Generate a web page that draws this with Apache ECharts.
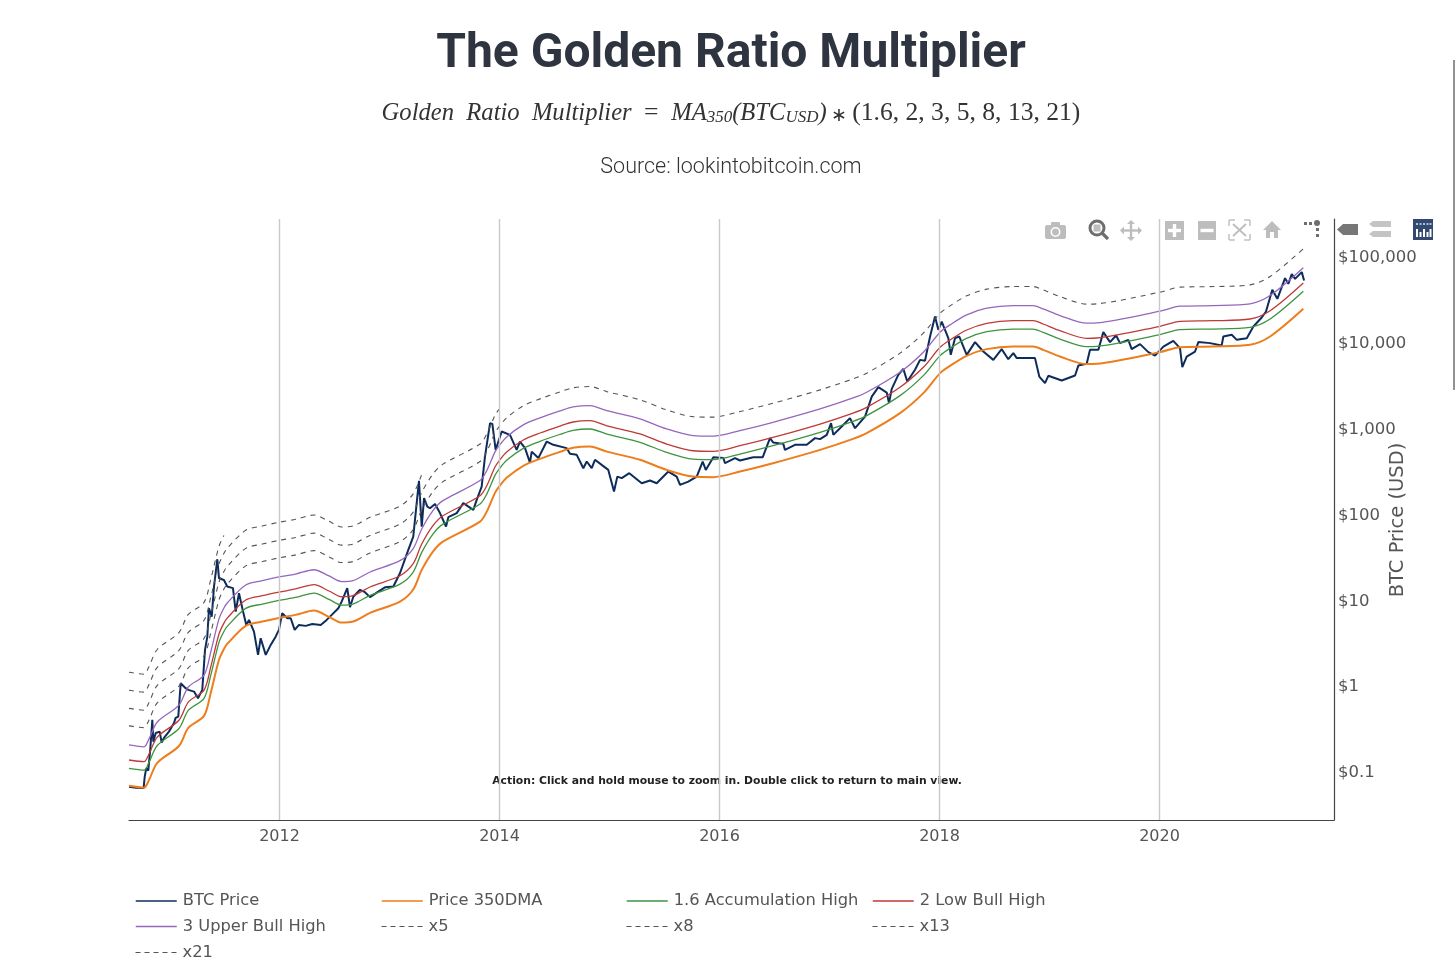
<!DOCTYPE html>
<html><head><meta charset="utf-8">
<style>html,body{margin:0;padding:0;background:#fff}#c{width:1456px;height:973px}</style>
<script src="https://cdn.jsdelivr.net/npm/echarts@6/dist/echarts.min.js"></script>
</head><body><div id="c"></div>
<script>
const tickYears=[2012,2014,2016,2018,2020];
const priceTicks=[0.1,1,10,100,1000,10000,100000];
const btcYears=[2010.632,2010.695,2010.765,2010.775,2010.789,2010.807,2010.825,2010.844,2010.853,2010.875,2010.911,2010.929,2010.95,2010.995,2011.041,2011.056,2011.08,2011.102,2011.147,2011.171,2011.223,2011.259,2011.298,2011.323,2011.344,2011.359,2011.384,2011.405,2011.435,2011.45,2011.495,2011.525,2011.577,2011.602,2011.632,2011.662,2011.698,2011.723,2011.768,2011.805,2011.829,2011.875,2011.92,2011.965,2011.995,2012.025,2012.071,2012.102,2012.138,2012.177,2012.238,2012.298,2012.375,2012.429,2012.475,2012.535,2012.565,2012.616,2012.641,2012.671,2012.732,2012.777,2012.823,2012.898,2012.959,2013.035,2013.095,2013.171,2013.216,2013.268,2013.293,2013.314,2013.344,2013.368,2013.414,2013.459,2013.514,2013.535,2013.611,2013.671,2013.762,2013.793,2013.838,2013.868,2013.914,2013.935,2013.965,2014.02,2014.095,2014.156,2014.186,2014.232,2014.277,2014.293,2014.353,2014.429,2014.489,2014.611,2014.641,2014.702,2014.762,2014.793,2014.838,2014.868,2014.929,2014.989,2015.041,2015.071,2015.111,2015.18,2015.293,2015.368,2015.429,2015.535,2015.611,2015.641,2015.716,2015.793,2015.847,2015.875,2015.944,2016.035,2016.05,2016.141,2016.186,2016.307,2016.393,2016.459,2016.489,2016.58,2016.595,2016.686,2016.793,2016.868,2016.914,2016.975,2017.014,2017.035,2017.111,2017.186,2017.232,2017.323,2017.384,2017.444,2017.52,2017.541,2017.565,2017.625,2017.671,2017.707,2017.777,2017.823,2017.868,2017.914,2017.959,2017.989,2018.02,2018.08,2018.102,2018.141,2018.18,2018.247,2018.323,2018.398,2018.489,2018.565,2018.625,2018.671,2018.702,2018.868,2018.907,2018.959,2018.989,2019.111,2019.232,2019.262,2019.338,2019.368,2019.444,2019.489,2019.55,2019.605,2019.641,2019.716,2019.747,2019.823,2019.898,2019.959,2020.035,2020.125,2020.186,2020.207,2020.247,2020.323,2020.353,2020.459,2020.565,2020.58,2020.656,2020.702,2020.793,2020.853,2020.929,2020.968,2021.025,2021.071,2021.141,2021.171,2021.202,2021.232,2021.293,2021.314];
const btcPrice=[0.0652,0.0638,0.0634,0.0859,0.108,0.101,0.176,0.393,0.219,0.277,0.287,0.214,0.243,0.287,0.362,0.415,0.43,1.05,0.92,0.879,0.84,0.703,0.879,2.57,3.67,7.87,6.28,14.1,29.3,17.6,16.8,14.1,13.5,7.19,11.8,7.87,5.03,5.75,4.2,2.25,3.52,2.25,2.94,3.67,4.4,6.89,6.02,6.02,4.4,5.03,4.9,5.16,5.03,5.75,6.58,7.87,9.4,13.5,8.09,10.7,12.9,12.1,10.6,12.3,13.8,14.1,20.1,37.7,53.8,240,70.3,151,120,115,129,101,70.3,90.6,101,132,110,144,206,460,1127,1107,551,901,824,551,689,577,392,526,442,689,631,577,495,482,337,403,337,422,368,322,180,269,258,295,225,242,225,308,269,215,235,269,403,322,453,442,385,442,414,453,453,755,670,647,551,631,631,755,735,824,1127,824,1030,1291,986,1346,2303,2965,2565,1932,2812,4121,4842,3443,4720,6166,6012,11530,19720,13800,17250,11040,7050,11040,11530,7050,9930,7710,6166,8220,6280,7380,6460,6460,3940,3300,4020,3540,4050,5290,5540,8070,8070,12970,9930,11840,9660,10550,8220,9400,7590,6920,8810,10280,8450,5070,6740,7710,9930,9660,9060,11530,12080,10550,11040,15070,19190,22550,40360,31700,55200,47400,61500,54200,64900,51800];
const maYears=[2010.632,2010.768,2010.814,2010.889,2011.086,2011.171,2011.314,2011.375,2011.45,2011.495,2011.525,2011.693,2011.844,2011.995,2012.147,2012.314,2012.45,2012.565,2012.668,2012.823,2013.095,2013.214,2013.293,2013.395,2013.486,2013.823,2013.884,2013.959,2013.995,2014.065,2014.216,2014.368,2014.55,2014.668,2014.823,2014.975,2015.277,2015.52,2015.759,2015.941,2016.186,2016.486,2016.914,2017.214,2017.338,2017.641,2017.853,2018.005,2018.095,2018.247,2018.429,2018.668,2018.85,2018.941,2019.095,2019.338,2019.429,2020.005,2020.186,2020.486,2020.823,2021.005,2021.307];
const ma350=[0.067,0.0638,0.0785,0.124,0.195,0.317,0.438,0.811,1.97,2.64,3.02,4.9,5.5,6.07,6.58,7.38,6.24,5.35,5.5,6.94,9.4,12.9,22,36,47,80.5,105,174,204,260,359,433,522,582,603,526,422,322,269,265,308,385,551,740,863,1476,2523,4315,5250,6870,8220,8810,8810,8070,6740,5500,5540,7590,8670,8810,9230,11530,24270];
const accumHigh=[0.107,0.102,0.126,0.198,0.312,0.507,0.701,1.30,3.15,4.22,4.83,7.84,8.8,9.71,10.5,11.8,9.98,8.56,8.8,11.1,15,20.6,35.2,57.6,75.2,129,168,278,326,416,574,693,835,931,965,842,675,515,430,424,493,616,882,1184,1381,2362,4037,6904,8400,10990,13150,14100,14100,12910,10780,8800,8860,12140,13870,14100,14770,18450,38830];
const lowBullHigh=[0.134,0.128,0.157,0.248,0.39,0.634,0.876,1.62,3.94,5.28,6.04,9.8,11,12.1,13.2,14.8,12.5,10.7,11,13.9,18.8,25.8,44,72,94,161,210,348,408,520,718,866,1044,1164,1206,1052,844,644,538,530,616,770,1102,1480,1726,2952,5046,8630,10500,13740,16440,17620,17620,16140,13480,11000,11080,15180,17340,17620,18460,23060,48540];
const upperBullHigh=[0.201,0.191,0.236,0.372,0.585,0.951,1.31,2.43,5.91,7.92,9.06,14.7,16.5,18.2,19.7,22.1,18.7,16.1,16.5,20.8,28.2,38.7,66,108,141,242,315,522,612,780,1077,1299,1566,1746,1809,1578,1266,966,807,795,924,1155,1653,2220,2589,4428,7569,12945,15750,20610,24660,26430,26430,24210,20220,16500,16620,22770,26010,26430,27690,34590,72810];
const x5Line=[0.335,0.319,0.393,0.62,0.975,1.59,2.19,4.06,9.85,13.2,15.1,24.5,27.5,30.4,32.9,36.9,31.2,26.8,27.5,34.7,47,64.5,110,180,235,403,525,870,1020,1300,1795,2165,2610,2910,3015,2630,2110,1610,1345,1325,1540,1925,2755,3700,4315,7380,12615,21575,26250,34350,41100,44050,44050,40350,33700,27500,27700,37950,43350,44050,46150,57650,121350];
const x8Line=[0.536,0.51,0.628,0.992,1.56,2.54,3.5,6.49,15.8,21.1,24.2,39.2,44,48.6,52.6,59,49.9,42.8,44,55.5,75.2,103,176,288,376,644,840,1392,1632];
const x13Line=[0.871,0.829,1.02,1.61,2.54,4.12,5.69,10.5,25.6,34.3,39.3,63.7,71.5,78.9,85.5,95.9,81.1,69.6,71.5,90.2,122,168,286];
const x21Line=[1.41,1.34,1.65,2.6,4.1,6.66,9.2,17,41.4,55.4];
const seriesNames=['BTC Price','Price 350DMA','1.6 Accumulation High','2 Low Bull High','3 Upper Bull High','x5','x8','x13','x21'];

const pair=(xs,ys)=>ys.map((v,i)=>[xs[i],v]);
const solid=(name,xs,ys,color,width,smooth)=>({name,type:'line',z:3,data:pair(xs,ys),showSymbol:false,symbol:'none',smooth,lineStyle:{color,width},itemStyle:{color}});
const dash=(name,ys)=>({name,type:'line',z:3,data:pair(maYears,ys),showSymbol:false,symbol:'none',smooth:0.3,lineStyle:{color:'#555',width:1.1,type:[5,5]},itemStyle:{color:'#555'}});
const series=[
 {type:'line',z:1,data:[],silent:true,markLine:{silent:true,symbol:'none',label:{show:false},lineStyle:{color:'#c8c8c8',width:1.4,type:'solid'},data:tickYears.map(y=>({xAxis:y}))}},
 solid(seriesNames[0],btcYears,btcPrice,'#0d2c5c',2,false),
 solid(seriesNames[1],maYears,ma350,'#ee7d1c',2,0.3),
 solid(seriesNames[2],maYears,accumHigh,'#3d9440',1.3,0.3),
 solid(seriesNames[3],maYears,lowBullHigh,'#bd3a36',1.3,0.3),
 solid(seriesNames[4],maYears,upperBullHigh,'#9467bd',1.3,0.3),
 dash(seriesNames[5],x5Line),dash(seriesNames[6],x8Line),dash(seriesNames[7],x13Line),dash(seriesNames[8],x21Line)
];
const cols=[135,381,626,872], rows=[893,918.5,944.5];
const legends=seriesNames.map((n,i)=>({data:[n],left:cols[i%4],top:rows[Math.floor(i/4)],padding:0,itemWidth:41,itemHeight:14,itemGap:0,
 itemStyle:{color:'transparent',borderWidth:0},
 lineStyle:i>4?{type:[5,4],width:1,color:'#555'}:{width:1.5},
 textStyle:{fontFamily:'DejaVu Sans',fontSize:16.3,color:'#555',padding:[3,0,0,1]},selectedMode:false}));

const G='#bdbdbd',D='#6e6e6e';
const rect=(x,y,w,h,fill,r)=>({type:'rect',shape:{x,y,width:w,height:h,r:r||0},style:{fill},silent:true});
const circ=(cx,cy,r,fill,stroke,lw)=>({type:'circle',shape:{cx,cy,r},style:{fill:fill||'none',stroke:stroke||null,lineWidth:lw||0},silent:true});
const poly=(points,fill)=>({type:'polygon',shape:{points},style:{fill},silent:true});
const seg=(x1,y1,x2,y2,stroke,lw)=>({type:'line',shape:{x1,y1,x2,y2},style:{stroke,lineWidth:lw},silent:true});
const txt=(x,y,text,font,fill)=>({type:'text',x,y,silent:true,style:{text,font,fill,textAlign:'center',textVerticalAlign:'middle'}});
const icons=[
 rect(1045,225,21,14,G,2),rect(1051,222,9,4,G,1),circ(1055.5,232,4.2,G,'#fff',1.6),
 circ(1097,228,7,'#fff',D,3),rect(1093.5,224.5,7,7,G),seg(1102,233,1108,239,D,3.2),
 seg(1131,221,1131,240,G,2.4),seg(1121,230.5,1141,230.5,G,2.4),
 poly([[1127,224],[1131,220],[1135,224]],G),poly([[1127,237],[1131,241],[1135,237]],G),poly([[1124,226.5],[1120,230.5],[1124,234.5]],G),poly([[1138,226.5],[1142,230.5],[1138,234.5]],G),
 rect(1165,221,19,19,G),rect(1172.8,224,3.4,13,'#fff'),rect(1168,228.8,13,3.4,'#fff'),
 rect(1198,221,18,19,G),rect(1200.5,228.8,13,3.4,'#fff'),
 seg(1229,226,1229,220,G,1.4),seg(1229,220,1235,220,G,1.4),seg(1244,220,1250,220,G,1.4),seg(1250,220,1250,226,G,1.4),seg(1229,234,1229,240,G,1.4),seg(1229,240,1235,240,G,1.4),seg(1244,240,1250,240,G,1.4),seg(1250,240,1250,234,G,1.4),seg(1233,224,1246,236,G,1.8),seg(1246,224,1233,236,G,1.8),
 poly([[1263,230],[1272,221],[1281,230],[1278,230],[1278,238],[1274,238],[1274,232],[1270,232],[1270,238],[1266,238],[1266,230]],G),
 rect(1304,222,3,3,D),rect(1309,222,3,3,D),circ(1317,223,3,D),rect(1316,228,3,3,D),rect(1316,234,3,3,D),
 poly([[1337,229.5],[1343,224],[1358,224],[1358,235],[1343,235]],'#777'),
 poly([[1369,224],[1373,221],[1391,221],[1391,227],[1373,227]],'#c4c4c4'),poly([[1369,234],[1373,231],[1391,231],[1391,237],[1373,237]],'#c4c4c4'),
 rect(1413,219,20,21,'#34496f'),
 rect(1416,229,2,8,'#fff'),rect(1419.5,232,2,5,'#fff'),rect(1423,229,2,8,'#fff'),rect(1426.5,232,2,5,'#fff'),rect(1429.5,229,2,8,'#fff'),
 rect(1416,223,2,2,'#a9c0e0'),rect(1419.5,223,2,2,'#a9c0e0'),rect(1423,223,2,2,'#a9c0e0'),rect(1426.5,223,2,2,'#a9c0e0'),rect(1429.5,223,2,2,'#a9c0e0'),
 seg(1454,60,1454,390,'#777',1.6)
];
const serif='Liberation Serif';
const texts=[
 txt(731,55,'The Golden Ratio Multiplier','bold 48px Roboto','#2e3440'),
 txt(731,168,'Source: lookintobitcoin.com','300 21.5px Roboto','#333'),
 txt(727,781,'Action: Click and hold mouse to zoom in. Double click to return to main view.','bold 10.8px "DejaVu Sans"','#222'),
 {type:'text',x:1397.5,y:520,rotation:Math.PI/2,silent:true,style:{text:'BTC Price (USD)',font:'19.5px "DejaVu Sans"',fill:'#555',textAlign:'center',textVerticalAlign:'middle'}},
 {type:'text',x:731,y:111,silent:true,style:{
   text:'{i|Golden  Ratio  Multiplier  }{r|=  }{i|MA}{s|350}{i|(BTC}{s|USD}{i|)}{a| \u2217 }{r|(1.6, 2, 3, 5, 8, 13, 21)}',
   textAlign:'center',textVerticalAlign:'middle',
   rich:{
    i:{fontFamily:serif,fontStyle:'italic',fontSize:24.6,fill:'#333',lineHeight:30,verticalAlign:'bottom'},
    r:{fontFamily:serif,fontSize:25.6,fill:'#333',lineHeight:30,verticalAlign:'bottom'},
    a:{fontFamily:serif,fontSize:19,fill:'#333',lineHeight:26,verticalAlign:'bottom'},
    s:{fontFamily:serif,fontStyle:'italic',fontSize:17,fill:'#333',lineHeight:26,verticalAlign:'bottom',padding:[6,0,0,0]}
   }}}
];
const chart=echarts.init(document.getElementById('c'),null,{renderer:'canvas'});
chart.setOption({
 animation:false,backgroundColor:'#fff',
 grid:{left:129,right:122,top:219,bottom:153,containLabel:false},
 legend:legends,
 tooltip:{show:false},
 xAxis:{type:'value',min:2010.632,max:2021.586,scale:true,
  axisLine:{show:true,onZero:false,lineStyle:{color:'#444',width:1.2}},
  axisTick:{show:false},
  axisLabel:{customValues:tickYears,formatter:v=>String(v),fontFamily:'DejaVu Sans',fontSize:16,color:'#555',margin:9},
  splitLine:{show:false}},
 yAxis:{type:'log',logBase:10,position:'right',min:0.0268,max:270000,
  axisLine:{show:true,onZero:false,lineStyle:{color:'#444',width:1.2}},
  axisTick:{show:false},
  axisLabel:{customValues:priceTicks,margin:4,fontFamily:'DejaVu Sans',fontSize:16.5,color:'#555',
   rich:{a:{fontFamily:'DejaVu Sans',fontSize:16.5,fill:'#555',color:'#555',padding:[4,0,0,0]}},
   formatter:v=>'{a|$'+(v<1?String(v):Number(v).toLocaleString('en-US'))+'}'},
  splitLine:{show:false}},
 series,
 graphic:{elements:texts.concat(icons)}
});
</script></body></html>
